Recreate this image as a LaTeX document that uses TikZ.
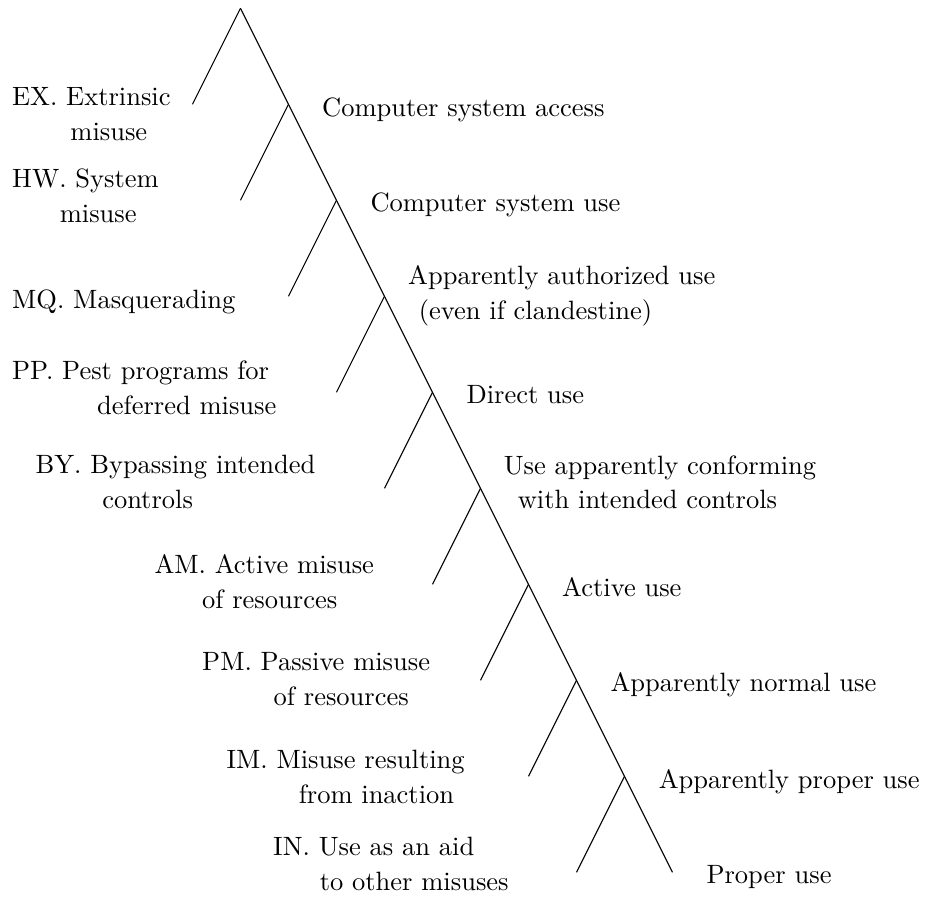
\documentclass[tikz,border=0pt]{standalone}
\usepackage{tikz}

\begin{document}
\begin{tikzpicture}[x=0.637cm, y=0.637cm,
  lbl/.style={anchor=base west, inner sep=0pt, align=left, font=\fontsize{10}{13.2}\selectfont}]
  \useasboundingbox (-5.010,-18.640) rectangle (14.281,0.173);
  % spine of the tree
  \coordinate (top) at (0,0);
  \coordinate (b1) at (1,-2);
  \coordinate (b2) at (2,-4);
  \coordinate (b3) at (3,-6);
  \coordinate (b4) at (4,-8);
  \coordinate (b5) at (5,-10);
  \coordinate (b6) at (6,-12);
  \coordinate (b7) at (7,-14);
  \coordinate (b8) at (8,-16);
  \coordinate (bottom) at (9,-18);
  % ends of the misuse branches
  \coordinate (m0) at (-1,-2);
  \coordinate (m1) at (0,-4);
  \coordinate (m2) at (1,-6);
  \coordinate (m3) at (2,-8);
  \coordinate (m4) at (3,-10);
  \coordinate (m5) at (4,-12);
  \coordinate (m6) at (5,-14);
  \coordinate (m7) at (6,-16);
  \coordinate (m8) at (7,-18);
  \draw (top) -- (bottom);
  \draw (top) -- (m0);
  \draw (b1) -- (m1);
  \draw (b2) -- (m2);
  \draw (b3) -- (m3);
  \draw (b4) -- (m4);
  \draw (b5) -- (m5);
  \draw (b6) -- (m6);
  \draw (b7) -- (m7);
  \draw (b8) -- (m8);
  % uses, right of the spine (base = last line)
  \node[lbl] (access) at (1.692,-2.258) {Computer system access};
  \node[lbl] (sysuse) at (2.698,-4.238) {Computer system use};
  \node[lbl] (authuse) at (3.483,-6.48) {Apparently authorized use\\\hspace*{4pt}(even if clandestine)};
  \node[lbl] (direct) at (4.698,-8.229) {Direct use};
  \node[lbl] (conform) at (5.475,-10.43) {Use apparently conforming\\\hspace*{5.3pt}with intended controls};
  \node[lbl] (active) at (6.692,-12.258) {Active use};
  \node[lbl] (normal) at (7.698,-14.238) {Apparently normal use};
  \node[lbl] (approper) at (8.704,-16.25) {Apparently proper use};
  \node[lbl] (proper) at (9.698,-18.229) {Proper use};
  % misuses, left of the branches
  \node[lbl] (ex) at (-4.767,-2.744) {EX. Extrinsic\\\hspace*{22pt}misuse};
  \node[lbl] (hw) at (-4.767,-4.467) {HW. System\\\hspace*{18pt}misuse};
  \node[lbl] (mq) at (-4.767,-6.244) {MQ. Masquerading};
  \node[lbl] (pp) at (-4.767,-8.452) {PP. Pest programs for\\\hspace*{32.1pt}deferred misuse};
  \node[lbl] (by) at (-4.281,-10.417) {BY. Bypassing intended\\\hspace*{25.2pt}controls};
  \node[lbl] (am) at (-1.802,-12.5) {AM. Active misuse\\\hspace*{18pt}of resources};
  \node[lbl] (pm) at (-0.808,-14.515) {PM. Passive misuse\\\hspace*{27pt}of resources};
  \node[lbl] (im) at (-0.302,-16.563) {IM. Misuse resulting\\\hspace*{27.3pt}from inaction};
  \node[lbl] (in) at (0.671,-18.383) {IN. Use as an aid\\\hspace*{17.6pt}to other misuses};
\end{tikzpicture}
\end{document}
